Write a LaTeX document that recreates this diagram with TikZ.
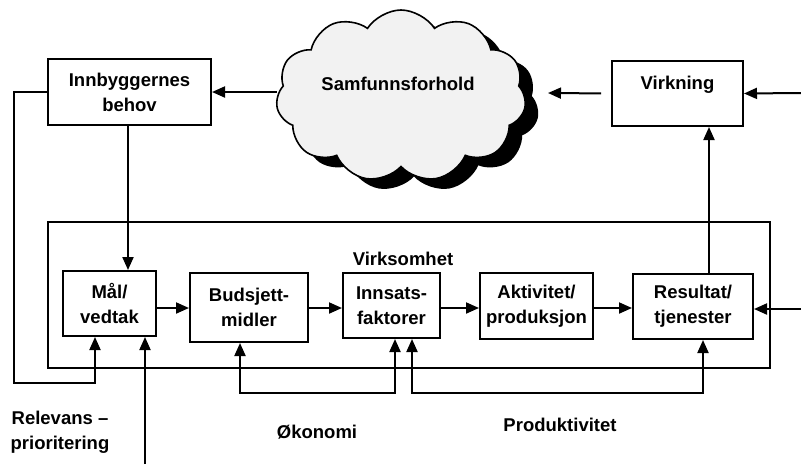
\documentclass[tikz,border=0pt]{standalone}
\usepackage{fontspec}
\setmainfont{Liberation Sans}
\usetikzlibrary{shapes.symbols,arrows.meta,calc}
\newcommand{\fsz}{\fontsize{18.5}{25}\selectfont\bfseries}
\begin{document}
\begin{tikzpicture}[x=1pt,y=-1pt,
  box/.style={draw,line width=2pt,fill=white,align=center,inner sep=0pt,font=\fsz},
  lbl/.style={align=center,inner sep=0pt,font=\fsz},
  arr/.style={line width=2pt,-{Triangle[length=13pt,width=11pt]}},
  arrb/.style={line width=2pt,{Triangle[length=13pt,width=11pt]}-{Triangle[length=13pt,width=11pt]}},
  cloudsh/.style={cloud,cloud puffs=11,cloud puff arc=115,cloud ignores aspect,minimum width=250pt,minimum height=172pt,inner sep=0pt}]
\useasboundingbox (0,0) rectangle (801,464);
\fill[white] (0,0) rectangle (801,464);
% big box
\node[draw,line width=1.5pt,minimum width=722pt,minimum height=146pt,inner sep=0pt] (virks) at (409,295) {};
\node[lbl] (vlab) at (403,259) {Virksomhet};
% cloud
\node[cloudsh,fill=black] (cshadow) at (414,106) {};
\node[cloudsh,draw,line width=1.6pt,fill=gray!10] (cloud) at (401,96) {};
\node[lbl] (clab) at (398,84) {Samfunnsforhold};
% boxes
\node[box,minimum width=163pt,minimum height=66pt] (innb) at (129.5,92) {Innbyggernes\\behov};
\node[box,minimum width=131pt,minimum height=65pt] (virk) at (677.5,93.5) {\raisebox{21pt}{Virkning}};
\node[box,minimum width=93pt,minimum height=65pt] (mal) at (109.5,303.5) {Mål/\\vedtak};
\node[box,minimum width=118pt,minimum height=69pt] (bud) at (249,307.5) {Budsjett-\\midler};
\node[box,minimum width=97pt,minimum height=65pt] (inn) at (391.5,305.5) {Innsats-\\faktorer};
\node[box,minimum width=113pt,minimum height=66pt] (akt) at (536.5,306) {Aktivitet/\\produksjon};
\node[box,minimum width=120pt,minimum height=65pt] (res) at (693,306.5) {Resultat/\\tjenester};
% labels
\node[lbl] (rel) at (60,432) {Relevans –\\prioritering};
\node[lbl] (oko) at (317,432) {Økonomi};
\node[lbl] (prod) at (560,425) {Produktivitet};
% free ends
\coordinate (cr) at (548,93);
\coordinate (inV) at (801,93);
\coordinate (inR) at (801,309);
\coordinate (inM) at (145,464);
\coordinate (b1) at (395,393);
\coordinate (b2) at (703,393);
\coordinate (lc) at (95,383);
\coordinate (h) at (0,308);
% connectors
\draw[arr] (cloud.west |- innb.east) -- (innb.east);
\draw[arr,shorten <=10pt] (virk.west) -- (cr);
\draw[arr] (inV) -- (virk.east);
\draw[arr] ([xshift=16pt]res.north) -- ([xshift=16pt]res.north |- virk.south);
\draw[arr] (inR) -- (inR -| res.east);
\draw[arr] ([xshift=-1.5pt]innb.south) -- ([xshift=-1.5pt]innb.south |- mal.north);
\draw[arr] (innb.west) -- ++(-33,0) |- (lc) -- (lc |- mal.south);
\draw[arr] (inM) -- (inM |- mal.south);
\draw[arr] (mal.east |- h) -- (bud.west |- h);
\draw[arr] (bud.east |- h) -- (inn.west |- h);
\draw[arr] (inn.east |- h) -- (akt.west |- h);
\draw[arr] (akt.east |- h) -- (res.west |- h);
\draw[arrb] ([xshift=-9pt]bud.south) |- (b1) -- (b1 |- inn.south);
\draw[arrb] ([xshift=20.5pt]inn.south) |- (b2) -- (b2 |- res.south);
\end{tikzpicture}
\end{document}
